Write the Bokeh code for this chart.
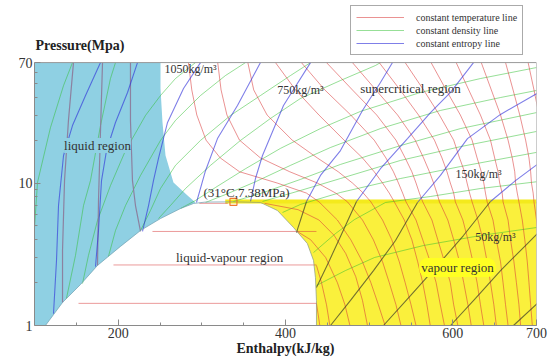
from bokeh.plotting import figure
from bokeh.models import Range1d, FixedTicker, Label, Legend, LegendItem
from bokeh.embed import file_html
from bokeh.resources import INLINE

# ---------------- axes ----------------
x_ticks = [200, 400, 600, 700]
x_minor = [150, 200, 250, 300, 350, 400, 450, 500, 550, 600, 650, 700]
y_ticks = [1, 10, 70]
y_minor = [2, 3, 4, 5, 6, 7, 8, 9, 20, 30, 40, 50, 60]
h_min, h_max = 100, 700
P_min, P_max = 1, 70
P_headroom = 190.9          # extra room above 70 MPa for the titles/legend

# ---------------- saturation dome ----------------
sat_liq_h = [113.1, 133.5, 155.0, 175.3, 202.8, 226.7, 250.6, 274.5, 290.0, 304.4, 337.8]
sat_liq_P = [1.0, 1.45, 1.94, 2.64, 3.59, 4.64, 5.63, 6.62, 7.18, 7.35, 7.38]
sat_vap_h = [337.8, 370.1, 390.4, 409.6, 426.1, 433.5, 435.8, 437.0, 437.0]
sat_vap_P = [7.38, 7.30, 6.41, 4.87, 3.76, 2.86, 2.17, 1.50, 1.0]

# liquid region (blue) and vapour region (yellow) outlines
liquid_region_h = [100, 113.1, 133.5, 155.0, 175.3, 202.8, 226.7, 250.6, 274.5, 290.0,
                   292.4, 282.9, 266.1, 256.6, 253.0, 250.6, 250.6, 100]
liquid_region_P = [1.0, 1.0, 1.45, 1.94, 2.64, 3.59, 4.64, 5.63, 6.62, 7.18,
                   7.30, 8.17, 10.1, 15.6, 26.6, 46.0, 70, 70]
vapour_region_h = [337.8, 700, 700, 437.0, 437.0, 435.8, 433.5, 426.1, 409.6, 390.4, 370.1]
vapour_region_P = [7.38, 7.38, 1.0, 1.0, 1.50, 2.17, 2.86, 3.76, 4.87, 6.41, 7.30]
critical_band_h = [328, 700]
critical_band_P = [7.42, 7.42]
critical_h = [337.8]
critical_P = [7.38]

# ---------------- constant temperature lines ----------------
iso_T = [50, 70, 90, 110, 130, 150, 170, 190, 210, 230, 250, 270, 290, 310]
iso_P = [70, 45, 30, 20, 15, 12, 10, 8.5, 7.38, 5.5, 4, 2.8, 2, 1.4, 1]
iso_h = [
    [284, 288, 294, 305, 322, 345, 390, 425, 440, 462, 478, 492, 502, 511, 519],
    [319, 323, 330, 345, 370, 405, 438, 460, 474, 492, 505, 516, 524, 532, 538],
    [355, 362, 378, 408, 438, 463, 480, 493, 502, 516, 527, 536, 543, 550, 556],
    [388, 412, 440, 470, 492, 506, 516, 524, 530, 542, 551, 558, 564, 569, 573],
    [419, 447, 478, 506, 520, 529, 535, 540, 544, 556, 564, 573, 580, 585, 590],
    [449, 480, 509, 532, 543, 551, 556, 560, 564, 575, 582, 590, 597, 601, 606],
    [480, 508, 534, 555, 565, 572, 577, 581, 584, 594, 601, 608, 613, 618, 622],
    [512, 537, 559, 578, 587, 593, 597, 601, 603, 612, 618, 624, 629, 633, 637],
    [543, 565, 584, 601, 608, 614, 617, 620, 623, 630, 636, 641, 645, 649, 652],
    [574, 592, 609, 623, 629, 634, 637, 639, 641, 648, 652, 657, 660, 663, 666],
    [604, 619, 633, 645, 650, 654, 656, 659, 660, 666, 669, 673, 676, 679, 681],
    [634, 646, 657, 666, 671, 674, 675, 677, 679, 683, 686, 689, 691, 693, 695],
    [663, 672, 680, 687, 691, 693, 694, 696, 697, 700, 702, 704, 706, 708, 709],
    [690, 697, 703, 707, 710, 711, 712, 713, 714, 716, 718, 720, 721, 722, 723],
]
sub_vap_T = [-30, -10, 10, 30]
sub_vap_h = [[437, 439, 441], [437, 443, 449, 453], [414, 430, 448, 462, 471, 477],
             [375, 415, 440, 458, 472, 484, 492, 498]]
sub_vap_P = [[1.43, 1.2, 1.0], [2.64, 2.0, 1.4, 1.0], [4.57, 4.0, 3.0, 2.0, 1.4, 1.0],
             [7.2, 6.5, 5.5, 4.3, 3.2, 2.2, 1.5, 1.0]]
liq_iso_T = [-30, -10, 10]
liq_iso_h = [[133.5, 133.5, 135.9, 140.6, 146.6], [175.3, 176.5, 178.9, 181.3],
             [226.7, 220.7, 217.1, 214.7, 214.7]]
liq_iso_P = [[1.45, 3.36, 10.4, 27.5, 70], [2.64, 7.54, 23.4, 70],
             [4.57, 6.95, 10.4, 27.5, 70]]
two_phase_T = [30, 10, -10, -30]
two_phase_P = [7.2, 4.57, 2.66, 1.43]
two_phase_h0 = [297, 241.0, 194.4, 152.6]
two_phase_h1 = [331, 437.0, 437.0, 437.0]

# ---------------- constant density lines ----------------
rho_vals = [50, 150, 250, 350, 450, 550, 650, 750, 850, 950, 1050, 1150, 1250]
rho_h = [
    [437.0, 471.7, 506.4, 564.9, 633.1, 700],
    [433.5, 459.8, 482.5, 519.5, 573.3, 633.1, 700],
    [396.4, 417.9, 465.7, 537.4, 609.2, 700],
    [372.5, 417.9, 465.7, 537.4, 609.2, 700],
    [337.8, 370.1, 417.9, 465.7, 537.4, 609.2, 700],
    [304.4, 328.3, 364.1, 406.0, 453.8, 513.5, 585.2, 657.0, 700],
    [274.5, 292.4, 316.3, 352.2, 394.0, 441.8, 489.6, 561.3, 633.1, 700],
    [248.2, 262.5, 280.5, 310.4, 346.2, 382.1, 417.9, 465.7, 507.6, 513.5],
    [226.7, 238.6, 250.6, 268.5, 298.4, 334.3, 370.1, 406.0, 429.9],
    [188.4, 196.8, 208.8, 226.7, 250.6, 268.5, 298.4, 328.3, 352.2],
    [157.4, 164.5, 175.3, 190.8, 208.8, 232.7, 250.6, 268.5, 292.4],
    [138.2, 149.0, 158.6, 166.9, 178.9, 190.8, 196.8],
    [100.0, 103.6, 119.1, 134.7, 145.4],
]
rho_P = [
    [1.91, 2.43, 3.00, 3.64, 4.28, 4.87],
    [3.25, 4.42, 5.54, 7.30, 8.04, 9.15, 10.2],
    [6.21, 7.07, 8.58, 10.75, 13.05, 16.4],
    [7.42, 8.86, 10.75, 14.4, 18.0, 23.0],
    [7.42, 8.44, 10.6, 13.5, 18.3, 24.1, 31.2],
    [7.30, 8.30, 10.2, 13.3, 17.75, 24.1, 32.3, 39.8, 44.6],
    [6.62, 7.54, 9.30, 12.6, 17.5, 24.1, 31.8, 43.2, 54.1, 64.6],
    [5.63, 6.95, 9.15, 13.3, 19.9, 28.4, 39.2, 52.4, 66.8, 70],
    [4.64, 6.41, 9.15, 13.3, 19.9, 29.8, 41.1, 56.8, 70],
    [3.05, 4.64, 6.95, 11.3, 19.9, 27.5, 41.1, 56.8, 70],
    [1.97, 3.10, 5.46, 9.60, 16.9, 29.8, 41.1, 54.1, 70],
    [1.55, 3.10, 6.95, 10.4, 25.3, 54.1, 70],
    [4.87, 10.1, 24.5, 48.3, 70],
]

# ---------------- constant entropy lines ----------------
ent_h = [
    [122.7, 126.3, 128.7, 134.7, 145.4, 161.0, 178.9],
    [172.9, 176.5, 180.1, 186.1, 196.8, 211.2, 223.1],
    [229.1, 236.3, 242.2, 248.2, 259.0, 278.1, 298.4],
    [293.6, 304.4, 318.7, 342.6, 370.1],
    [358.2, 364.1, 372.5, 397.6, 429.9],
    [413.1, 425.1, 441.8, 465.7, 492.0, 513.5, 527.9],
    [437.0, 451.4, 465.7, 484.9, 513.5, 545.8, 573.3, 597.2, 624.7],
    [453.8, 477.7, 505.2, 531.5, 557.8, 585.2, 617.5, 657.0, 696.4, 710.7],
    [517.1, 549.4, 581.7, 612.7, 645.0, 674.9, 710.7],
    [597.2, 627.1, 657.0, 686.8, 714.3],
    [672.5, 701.2, 716.7],
]
ent_P = [
    [1.21, 2.86, 6.95, 15.6, 25.3, 41.1, 70],
    [2.59, 4.64, 10.4, 16.9, 26.6, 43.2, 70],
    [4.57, 6.95, 10.4, 14.9, 26.6, 46.0, 70],
    [7.30, 12.2, 20.5, 35.0, 70],
    [7.42, 10.75, 15.6, 35.0, 70],
    [4.49, 7.42, 11.3, 16.9, 32.3, 50.7, 70],
    [1.85, 2.77, 4.21, 7.42, 12.6, 20.5, 31.2, 43.2, 70],
    [1.0, 1.50, 2.43, 3.95, 7.30, 11.3, 20.5, 30.3, 41.1, 46.0],
    [1.0, 1.62, 2.64, 4.28, 7.42, 10.4, 14.9],
    [1.0, 1.55, 2.43, 3.64, 5.28],
    [1.0, 1.43, 1.70],
]

legend_labels = ["constant temperature line", "constant density line", "constant entropy line"]

SERIF = "Liberation Serif"
BLUE_FILL = "#8fd0e3"
YELLOW_FILL = "#faf03c"
RED = "#d83838"
GREEN = "#2fbf2f"
BLUE = "#2a2ad8"

p = figure(width=554, height=363, x_range=Range1d(h_min, h_max),
           y_range=Range1d(P_min, P_headroom), y_axis_type="log",
           output_backend="svg", toolbar_location=None,
           min_border_left=34, min_border_right=18, min_border_top=0, min_border_bottom=38)
p.grid.visible = False
p.outline_line_color = None
p.background_fill_color = "white"
p.border_fill_color = "white"

p.xaxis.ticker = FixedTicker(ticks=x_ticks, minor_ticks=x_minor)
p.yaxis.ticker = FixedTicker(ticks=y_ticks, minor_ticks=y_minor)
p.yaxis.bounds = (P_min, P_max)
p.yaxis.major_label_overrides = {1: "1", 10: "10", 70: "70"}
p.xaxis.axis_label = "Enthalpy(kJ/kg)"
p.xaxis.axis_label_text_font = SERIF
p.xaxis.axis_label_text_font_style = "bold"
p.xaxis.axis_label_text_font_size = "14px"
p.xaxis.axis_label_text_color = "#222222"
p.xaxis.axis_label_standoff = 0
for ax in (p.xaxis, p.yaxis):
    ax.major_label_text_font = SERIF
    ax.major_label_text_font_size = "14px"
    ax.major_label_text_color = "#333333"
    ax.axis_line_color = "#8a8a8a"
    ax.major_tick_line_color = "#8a8a8a"
    ax.minor_tick_line_color = "#8a8a8a"
    ax.major_tick_in = 6
    ax.major_tick_out = 0
    ax.minor_tick_in = 3
    ax.minor_tick_out = 0
p.xaxis.major_label_standoff = 2
p.yaxis.major_label_standoff = 2

# region fills
p.patch(liquid_region_h, liquid_region_P, fill_color=BLUE_FILL, line_color=None)
p.patch(vapour_region_h, vapour_region_P, fill_color=YELLOW_FILL, line_color=None)
p.line(critical_band_h, critical_band_P, line_width=4, line_color="#f4ea1c")

# density lines
r_rho = p.multi_line(rho_h, rho_P, line_color=GREEN, line_alpha=0.5, line_width=1)

# temperature lines
r_iso = p.multi_line(iso_h, [iso_P] * len(iso_h), line_color=RED, line_alpha=0.55, line_width=1)
p.multi_line(sub_vap_h, sub_vap_P, line_color=RED, line_alpha=0.55, line_width=1)
p.segment(x0=two_phase_h0, y0=two_phase_P, x1=two_phase_h1, y1=two_phase_P,
          line_color=RED, line_alpha=0.5, line_width=1)
p.multi_line(liq_iso_h, liq_iso_P, line_color="#8c7c9c", line_alpha=0.95, line_width=1.2)

# entropy lines: vapour part (inside the yellow region) and the rest
low_h, low_P, high_h, high_P = [], [], [], []
for hs, ps in zip(ent_h, ent_P):
    k = 0
    while k < len(hs) and ps[k] <= 7.45 and hs[k] > 400:
        k += 1
    if k >= 2:
        low_h.append(hs[:k]); low_P.append(ps[:k])
    start = max(k - 1, 0)
    if len(hs) - start >= 2:
        high_h.append(hs[start:]); high_P.append(ps[start:])
p.multi_line(low_h, low_P, line_color="#3a3a2a", line_alpha=0.7, line_width=1.1)
r_ent = p.multi_line(high_h, high_P, line_color=BLUE, line_alpha=0.6, line_width=1.1)

# dome outline
p.line(sat_liq_h, sat_liq_P, line_color="#6f9fb0", line_alpha=0.7, line_width=1)
p.line(sat_vap_h, sat_vap_P, line_color="#8a9a80", line_alpha=0.7, line_width=1)

# plot-area border (top and right edges of the 100..700 x 1..70 box)
p.line([h_min, h_max, h_max], [P_max, P_max, P_min], line_color="#9a9a9a", line_width=1)

# critical point marker
p.scatter(critical_h, critical_P, marker="square", size=7, fill_alpha=0,
          line_color="#f07a30", line_width=1.2)


def lab(x, y, text, size="13px", align="center", **kw):
    p.add_layout(Label(x=x, y=y, text=text, text_font=SERIF, text_font_size=size,
                       text_color="#333333", text_align=align, text_baseline="middle", **kw))


# y-axis title (kept just inside the drawing area so it is not clipped)
p.add_layout(Label(x=1, y=280, x_units="screen", y_units="screen", text="Pressure(Mpa)",
                   text_font=SERIF, text_font_size="14px", text_font_style="bold",
                   text_color="#222222", text_align="left", text_baseline="middle"))
lab(175.3, 18.3, "liquid region", background_fill_color=BLUE_FILL, background_fill_alpha=1)
lab(549.4, 46.0, "supercritical region")
lab(333.1, 3.0, "liquid-vapour region")
lab(605.6, 2.55, "vapour region", background_fill_color="#ffff22", background_fill_alpha=1,
    padding=2, border_radius=8)
lab(353.4, 8.58, "(31°C,7.38MPa)")
lab(286.5, 62.6, "1050kg/m³", size="12px")
lab(417.9, 44.6, "750kg/m³", size="12px")
lab(630.7, 11.66, "150kg/m³", size="12px")
lab(651.0, 4.21, "50kg/m³", size="12px")

legend = Legend(items=[
    LegendItem(label=legend_labels[0], renderers=[r_iso]),
    LegendItem(label=legend_labels[1], renderers=[r_rho]),
    LegendItem(label=legend_labels[2], renderers=[r_ent]),
], location=(316, 270), label_text_font=SERIF, label_text_font_size="10px",
    label_text_color="#333333", glyph_width=48, glyph_height=12, label_height=12,
    label_standoff=12, padding=5, spacing=1, margin=0, border_line_color="#555555",
    border_line_width=1, background_fill_color="white", background_fill_alpha=1)
p.add_layout(legend)

open("out.html", "w").write(file_html(p, INLINE))
